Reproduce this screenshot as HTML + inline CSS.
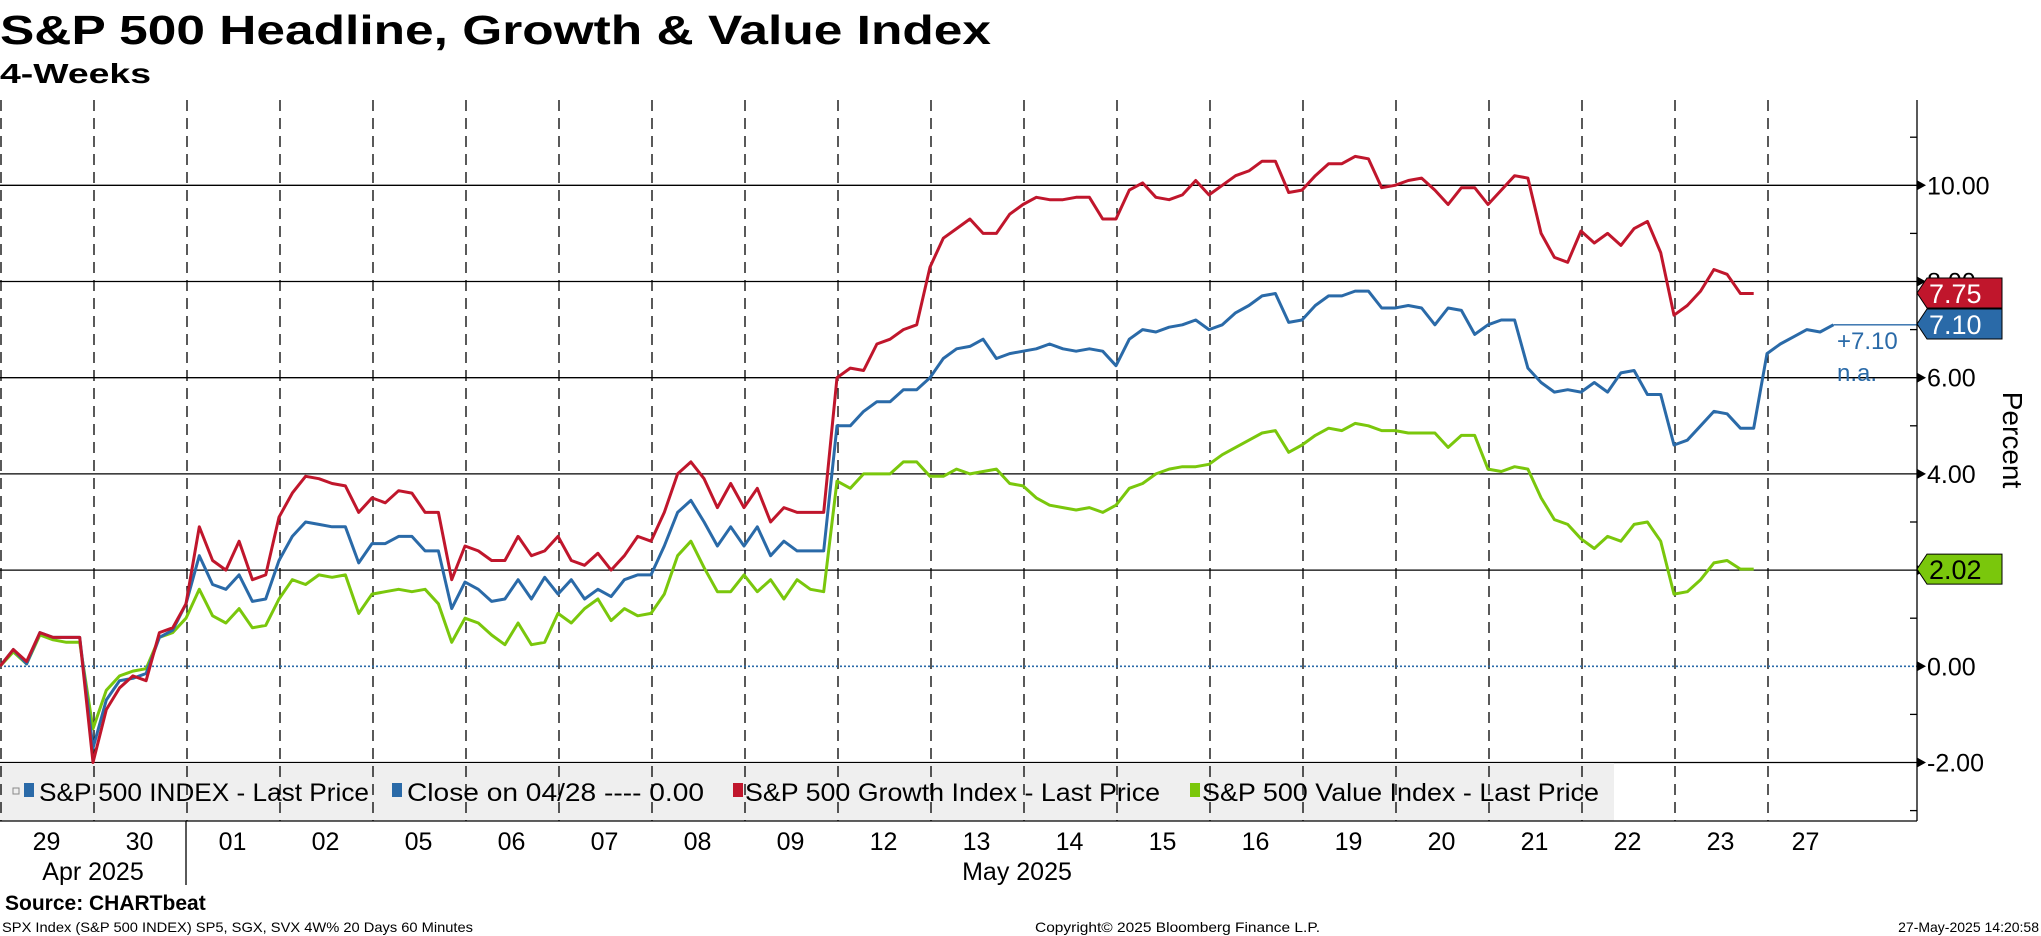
<!DOCTYPE html>
<html><head><meta charset="utf-8"><style>
html,body{margin:0;padding:0;background:#fff;}
svg{display:block;font-family:"Liberation Sans","DejaVu Sans",sans-serif;}
</style></head><body>
<svg id="chart" width="2041" height="936" viewBox="0 0 2041 936" xmlns="http://www.w3.org/2000/svg">
<rect width="2041" height="936" fill="#fff"/>
<text x="0" y="44" font-size="41" font-weight="bold" textLength="991" lengthAdjust="spacingAndGlyphs">S&amp;P 500 Headline, Growth &amp; Value Index</text>
<text x="0" y="83" font-size="28" font-weight="bold" textLength="151" lengthAdjust="spacingAndGlyphs">4-Weeks</text>
<g id="grid"></g>
<rect x="0" y="763" width="1614" height="58" fill="#efefef"/>
<g id="vlines"></g>
<g id="series"></g>
<g id="axis"></g>
<g id="legend"></g>
<g id="xlabels"></g>
<text x="5" y="910" font-size="21" font-weight="bold">Source: CHARTbeat</text>
<text x="2" y="932" font-size="14" textLength="471" lengthAdjust="spacingAndGlyphs">SPX Index (S&amp;P 500 INDEX) SP5, SGX, SVX 4W% 20 Days 60 Minutes</text>
<text x="1035" y="932" font-size="14" textLength="285" lengthAdjust="spacingAndGlyphs">Copyright© 2025 Bloomberg Finance L.P.</text>
<text x="2039" y="932" font-size="14" text-anchor="end">27-May-2025 14:20:58</text>
</svg>
<script>
const days = ["29","30","01","02","05","06","07","08","09","12","13","14","15","16","19","20","21","22","23","27"];
const yTicks = [-2,0,2,4,6,8,10];
const yTickLabels = ["-2.00","0.00","2.00","4.00","6.00","8.00","10.00"];
const headline = [0,0.35,0.05,0.7,0.6,0.6,0.6, -1.7,-0.7,-0.3,-0.25,-0.15,0.6,0.75, 1.3,2.3,1.7,1.6,1.9,1.35,1.4, 2.2,2.7,3.0,2.95,2.9,2.9,2.15, 2.55,2.55,2.7,2.7,2.4,2.4,1.2, 1.75,1.6,1.35,1.4,1.8,1.4,1.85, 1.5,1.8,1.4,1.6,1.45,1.8,1.9, 1.9,2.5,3.2,3.45,3.0,2.5,2.9, 2.5,2.9,2.3,2.6,2.4,2.4,2.4, 5.0,5.0,5.3,5.5,5.5,5.75,5.75, 6.0,6.4,6.6,6.65,6.8,6.4,6.5, 6.55,6.6,6.7,6.6,6.55,6.6,6.55, 6.25,6.8,7.0,6.95,7.05,7.1,7.2, 7.0,7.1,7.35,7.5,7.7,7.75,7.15, 7.2,7.5,7.7,7.7,7.8,7.8,7.45, 7.45,7.5,7.45,7.1,7.45,7.4,6.9, 7.1,7.2,7.2,6.2,5.9,5.7,5.75, 5.7,5.9,5.7,6.1,6.15,5.65,5.65, 4.6,4.7,5.0,5.3,5.25,4.95,4.95, 6.5,6.7,6.85,7.0,6.95,7.1];
const growth = [0,0.35,0.1,0.7,0.6,0.6,0.6, -2.0,-0.9,-0.45,-0.2,-0.3,0.7,0.8, 1.3,2.9,2.2,2.0,2.6,1.8,1.9, 3.1,3.6,3.95,3.9,3.8,3.75,3.2, 3.5,3.4,3.65,3.6,3.2,3.2,1.8, 2.5,2.4,2.2,2.2,2.7,2.3,2.4, 2.7,2.2,2.1,2.35,2.0,2.3,2.7, 2.6,3.2,4.0,4.25,3.9,3.3,3.8, 3.3,3.7,3.0,3.3,3.2,3.2,3.2, 6.0,6.2,6.15,6.7,6.8,7.0,7.1, 8.3,8.9,9.1,9.3,9.0,9.0,9.4, 9.6,9.75,9.7,9.7,9.75,9.75,9.3, 9.3,9.9,10.05,9.75,9.7,9.8,10.1, 9.8,10.0,10.2,10.3,10.5,10.5,9.85, 9.9,10.2,10.45,10.45,10.6,10.55,9.95, 10.0,10.1,10.15,9.9,9.6,9.95,9.95, 9.6,9.9,10.2,10.15,9.0,8.5,8.4, 9.05,8.8,9.0,8.75,9.1,9.25,8.6, 7.3,7.5,7.8,8.25,8.15,7.75,7.75];
const value = [0,0.3,0.05,0.65,0.55,0.5,0.5, -1.3,-0.5,-0.2,-0.1,-0.05,0.6,0.7, 1.0,1.6,1.05,0.9,1.2,0.8,0.85, 1.4,1.8,1.7,1.9,1.85,1.9,1.1, 1.5,1.55,1.6,1.55,1.6,1.3,0.5, 1.0,0.9,0.65,0.45,0.9,0.45,0.5, 1.1,0.9,1.2,1.4,0.95,1.2,1.05, 1.1,1.5,2.3,2.6,2.05,1.55,1.55, 1.9,1.55,1.8,1.4,1.8,1.6,1.55, 3.85,3.7,4.0,4.0,4.0,4.25,4.25, 3.95,3.95,4.1,4.0,4.05,4.1,3.8, 3.75,3.5,3.35,3.3,3.25,3.3,3.2, 3.35,3.7,3.8,4.0,4.1,4.15,4.15, 4.2,4.4,4.55,4.7,4.85,4.9,4.45, 4.6,4.8,4.95,4.9,5.05,5.0,4.9, 4.9,4.85,4.85,4.85,4.55,4.8,4.8, 4.1,4.05,4.15,4.1,3.5,3.05,2.95, 2.65,2.45,2.7,2.6,2.95,3.0,2.6, 1.5,1.55,1.8,2.15,2.2,2.02,2.02];
const closeLevel = 0;
const lastValues = {headline: 7.10, growth: 7.75, value: 2.02};

const NS = "http://www.w3.org/2000/svg";
const AX = 1917, DAYW = 93, PTS = 7, TOP = 100, BOT = 821;
const x = i => i * DAYW / PTS;
const y = v => 666.3 - 48.1 * v;
function mk(tag, attrs, parent, txt){const e=document.createElementNS(NS,tag);for(const k in attrs)e.setAttribute(k,attrs[k]);if(txt!==undefined)e.textContent=txt;parent.appendChild(e);return e;}
const grid=document.getElementById('grid'), vl=document.getElementById('vlines'), ser=document.getElementById('series'), ax=document.getElementById('axis'), xl=document.getElementById('xlabels'), lg=document.getElementById('legend');

// horizontal gridlines
yTicks.forEach((t,k)=>{
  if(t===0) return;
  const l=mk('line',{x1:0,x2:AX,y1:y(t),y2:y(t),stroke:'#000','stroke-width':1.3},grid);
  
  
});
// minor ticks
for(let v=-3; v<=11; v+=2){
  const m=mk('line',{x1:AX-7,x2:AX,y1:y(v),y2:y(v),stroke:'#000','stroke-width':1.3},ax);
  
  
}
// vertical dashed day lines
days.forEach((d,i)=>{
  const l=mk('line',{x1:i*DAYW+1,x2:i*DAYW+1,y1:TOP,y2:BOT,stroke:'#000','stroke-width':1.3,'stroke-dasharray':'11,7'},vl);
  
  
  const t=mk('text',{x:i*DAYW+DAYW/2 - (i===19?8:0),y:850,'font-size':25,'text-anchor':'middle'},xl,d);
  
  
});
// close line (0)
const cl=mk('line',{x1:0,x2:AX,y1:y(closeLevel),y2:y(closeLevel),stroke:'#2a6aa8','stroke-width':1.6,'stroke-dasharray':'2,2'},ser);



function line(arr,color,name){
  const d=arr.map((v,i)=>(i?'L':'M')+x(i).toFixed(1)+','+y(v).toFixed(1)).join('');
  const p=mk('path',{d:d,fill:'none',stroke:color,'stroke-width':3,'stroke-linejoin':'round'},ser);
  
  
}
line(value,'#7ac70c','value-index-line');
line(headline,'#2a6aa8','headline-index-line');
line(growth,'#c0162c','growth-index-line');
// connector from last headline point to axis
const hl=headline.length-1;
const cn=mk('line',{x1:x(hl),x2:AX,y1:y(headline[hl]),y2:y(headline[hl]),stroke:'#2a6aa8','stroke-width':1.3},ser);


const ann1=mk('text',{x:1837,y:349,'font-size':24,fill:'#2a6aa8'},ser,'+'+lastValues.headline.toFixed(2));


const ann2=mk('text',{x:1837,y:381,'font-size':24,fill:'#2a6aa8'},ser,'n.a.');



// axis
const av=mk('line',{x1:AX,x2:AX,y1:TOP,y2:BOT,stroke:'#000','stroke-width':1.3},ax);


const xb=mk('line',{x1:0,x2:AX,y1:BOT,y2:BOT,stroke:'#000','stroke-width':1.3},ax);


yTicks.forEach((t,k)=>{
  mk('path',{d:`M${AX},${y(t)-5}L${AX+9},${y(t)}L${AX},${y(t)+5}Z`,fill:'#000'},ax);
  const tx=mk('text',{x:AX+10,y:y(t)+9,'font-size':25},ax,yTickLabels[k]);
  
  
});
const yt=mk('text',{x:0,y:0,'font-size':28,transform:'translate(2003,440) rotate(90)','text-anchor':'middle'},ax,'Percent');



function tag(v,cy,color,txtColor,name){
  const g=mk('g',{},ax);
  
  
  mk('path',{d:`M${AX},${cy}L${AX+10},${cy-15}L${2002},${cy-15}L${2002},${cy+15}L${AX+10},${cy+15}Z`,fill:color,stroke:'#000','stroke-width':1},g);
  mk('text',{x:AX+12,y:cy+10,'font-size':27,fill:txtColor},g,v.toFixed(2));
}
tag(lastValues.growth,293,'#c0162c','#fff','growth-last-value-tag');
tag(lastValues.headline,324,'#2a6aa8','#fff','headline-last-value-tag');
tag(lastValues.value,y(lastValues.value),'#7ac70c','#000','value-last-value-tag');

// month labels and separator
const sep=mk('line',{x1:DAYW*2,x2:DAYW*2,y1:BOT,y2:885,stroke:'#000','stroke-width':1.3},xl);


const m1=mk('text',{x:DAYW,y:880,'font-size':25,'text-anchor':'middle'},xl,'Apr 2025');


const m2=mk('text',{x:1017,y:880,'font-size':25,'text-anchor':'middle'},xl,'May 2025');



// legend
const legendItems=[
 {label:'S&P 500 INDEX - Last Price',color:'#2a6aa8',mx:24,tx:39,w:330,name:'legend-entry-headline'},
 {label:'Close on 04/28 ---- 0.00',color:'#2a6aa8',mx:392,tx:407,w:297,name:'legend-entry-close'},
 {label:'S&P 500 Growth Index - Last Price',color:'#c0162c',mx:733,tx:745,w:415,name:'legend-entry-growth'},
 {label:'S&P 500 Value Index - Last Price',color:'#7ac70c',mx:1190,tx:1202,w:397,name:'legend-entry-value'}
];
legendItems.forEach(it=>{
  const g=mk('g',{},lg);
  
  
  mk('rect',{x:it.mx,y:783,width:10,height:14,fill:it.color},g);
  mk('text',{x:it.tx,y:801,'font-size':25,textLength:it.w,lengthAdjust:'spacingAndGlyphs'},g,it.label);
});
mk('rect',{x:13,y:788,width:6,height:6,fill:'none',stroke:'#888','stroke-width':1},lg);
</script>
</body></html>
